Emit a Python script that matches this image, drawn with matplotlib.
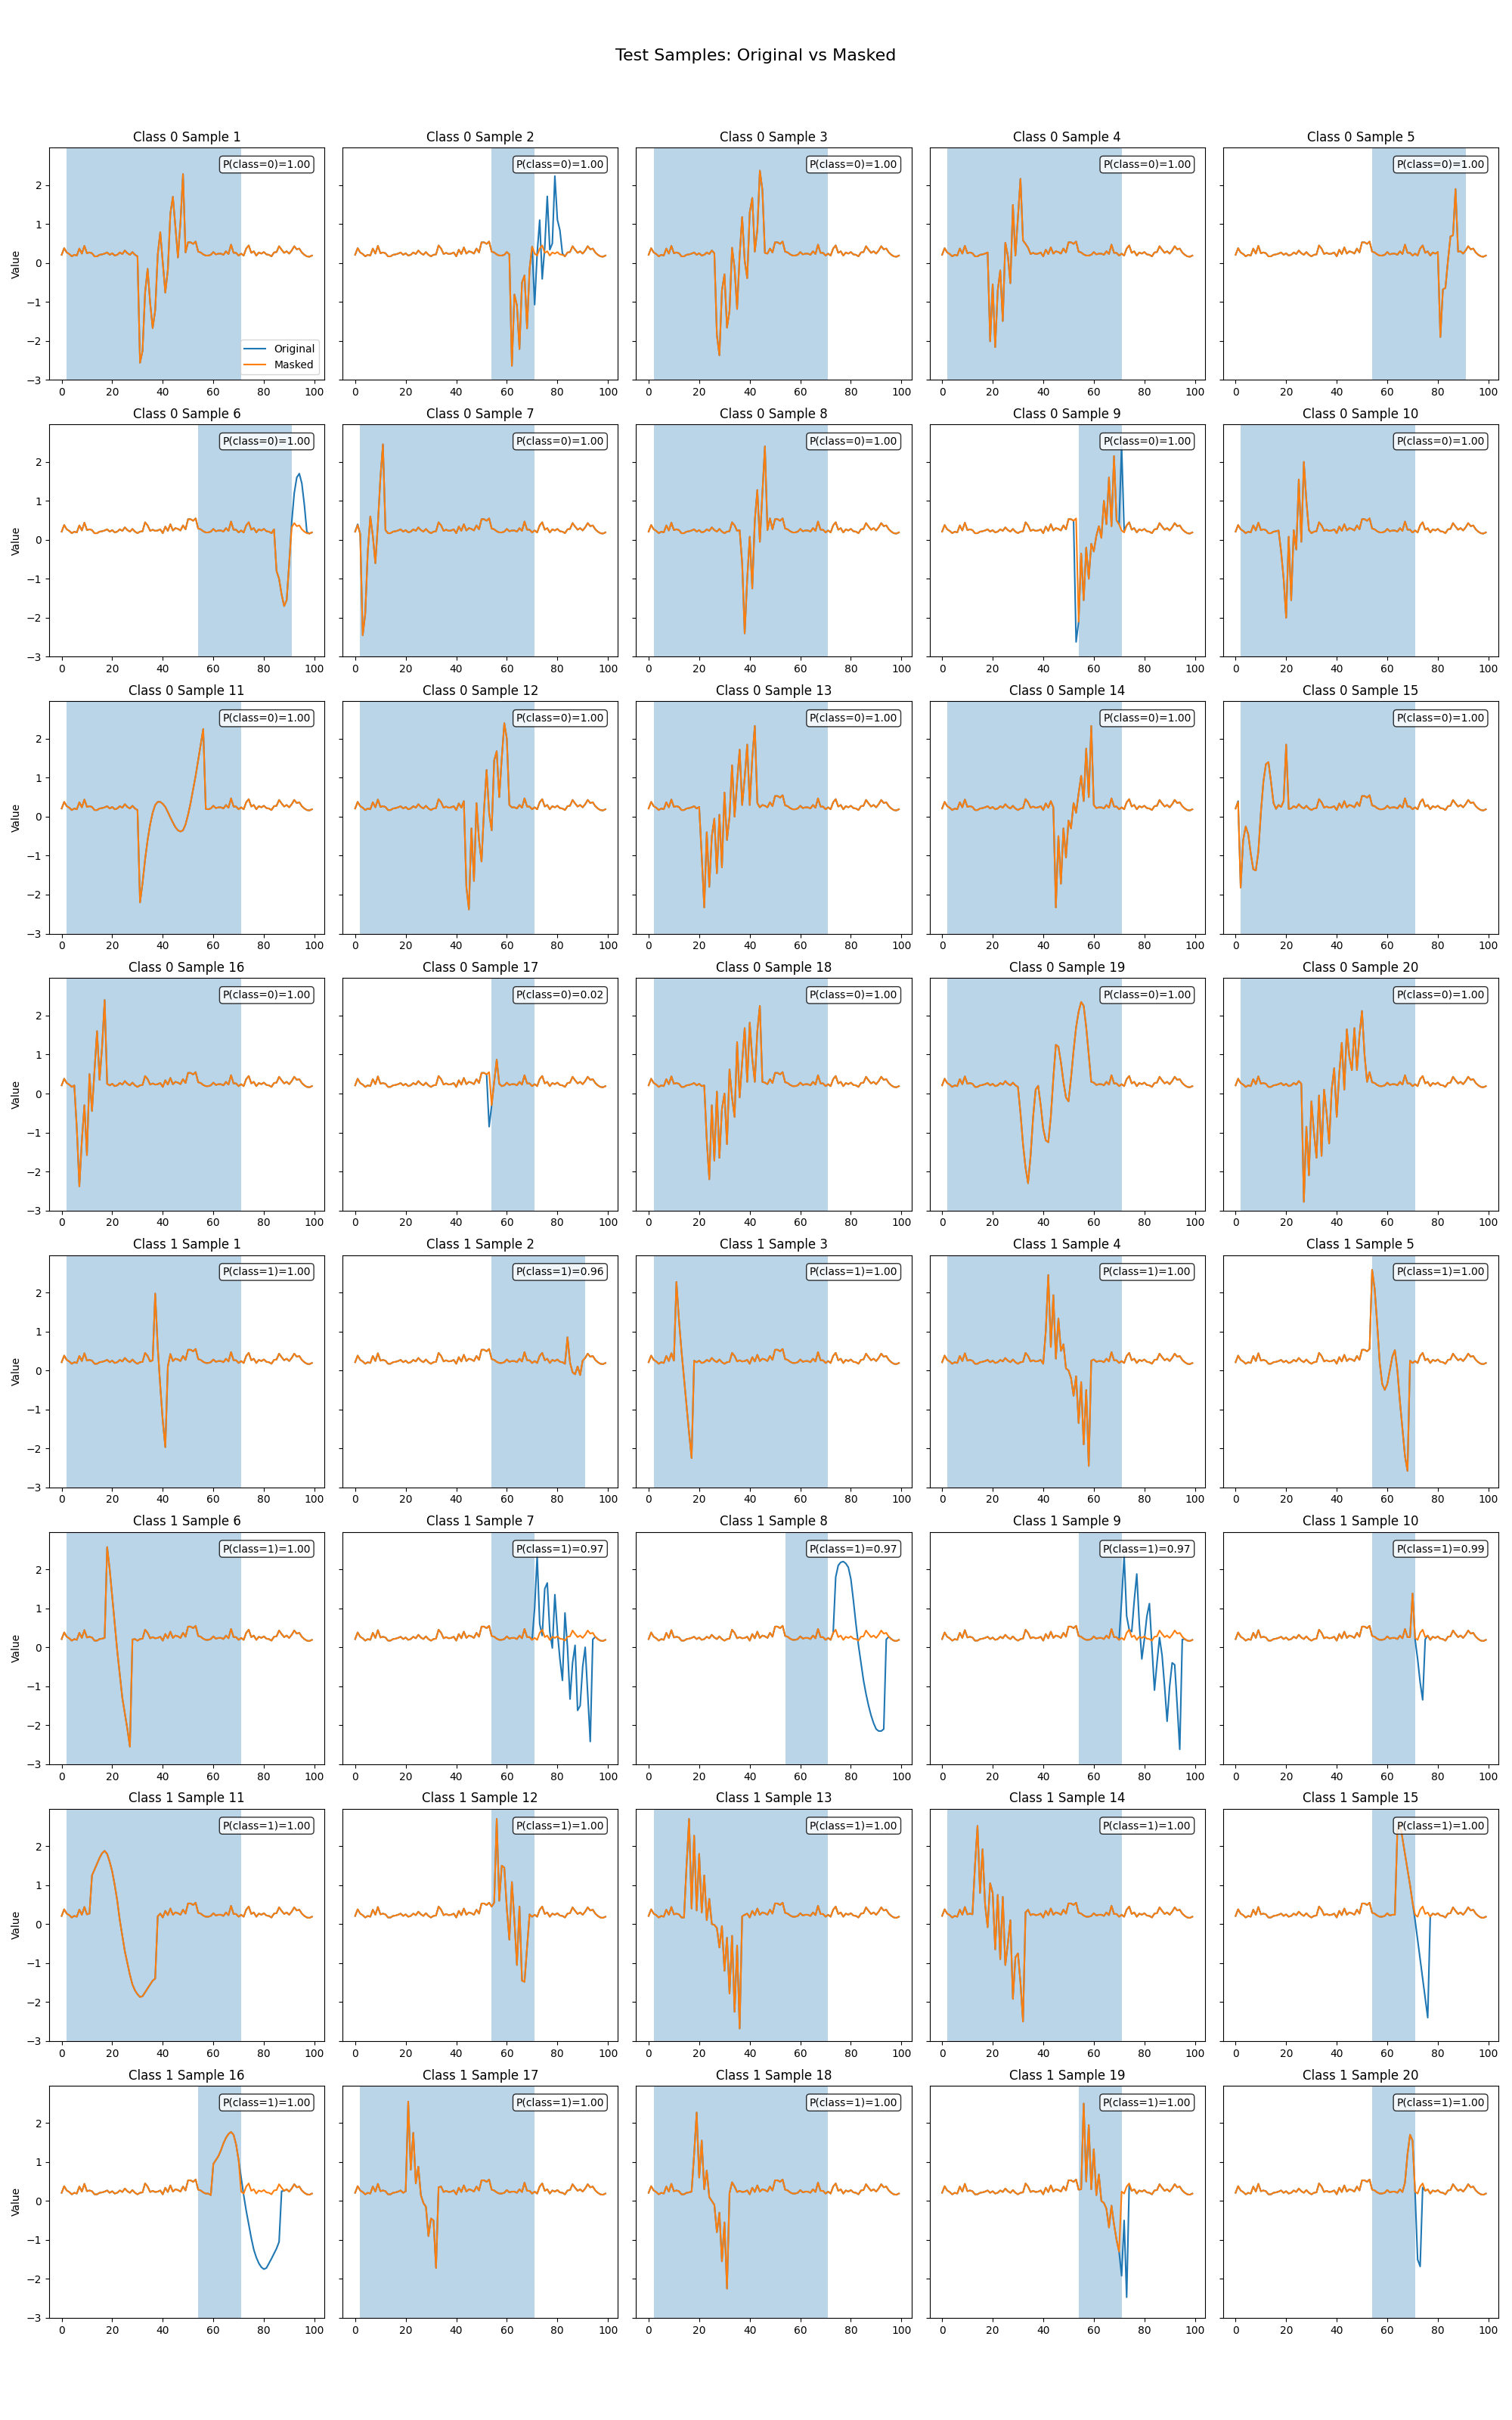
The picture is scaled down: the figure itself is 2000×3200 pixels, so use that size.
import matplotlib
matplotlib.use("Agg")
import matplotlib.pyplot as plt
import numpy as np

# shared background signal (index 0..99)
baseline = [
    0.21, 0.38, 0.27, 0.23, 0.17, 0.21, 0.19, 0.37, 0.24, 0.44,
    0.25, 0.27, 0.25, 0.17, 0.17, 0.21, 0.22, 0.24, 0.27, 0.21,
    0.25, 0.19, 0.21, 0.27, 0.23, 0.32, 0.25, 0.21, 0.28, 0.21,
    0.17, 0.21, 0.22, 0.45, 0.37, 0.23, 0.26, 0.23, 0.24, 0.27,
    0.17, 0.34, 0.23, 0.40, 0.24, 0.30, 0.28, 0.24, 0.37, 0.27,
    0.53, 0.53, 0.49, 0.55, 0.29, 0.27, 0.22, 0.19, 0.19, 0.21,
    0.28, 0.22, 0.24, 0.24, 0.21, 0.30, 0.23, 0.47, 0.26, 0.26,
    0.19, 0.24, 0.19, 0.37, 0.45, 0.26, 0.30, 0.19, 0.27, 0.24,
    0.28, 0.22, 0.21, 0.17, 0.27, 0.28, 0.43, 0.34, 0.26, 0.30,
    0.24, 0.32, 0.43, 0.35, 0.37, 0.27, 0.21, 0.17, 0.16, 0.19,
]

# class 0 samples 1-20 then class 1 samples 1-20
sample_class = [0] * 20 + [1] * 20
sample_num = list(range(1, 21)) * 2

probs = [1.00, 1.00, 1.00, 1.00, 1.00, 1.00, 1.00, 1.00, 1.00, 1.00,
         1.00, 1.00, 1.00, 1.00, 1.00, 1.00, 0.02, 1.00, 1.00, 1.00,
         1.00, 0.96, 1.00, 1.00, 1.00, 1.00, 0.97, 0.97, 0.97, 0.99,
         1.00, 1.00, 1.00, 1.00, 1.00, 1.00, 1.00, 1.00, 1.00, 1.00]

span_start = [2, 54, 2, 2, 54, 54, 2, 2, 54, 2,
              2, 2, 2, 2, 2, 2, 54, 2, 2, 2,
              2, 54, 2, 2, 54, 2, 54, 54, 54, 54,
              2, 54, 2, 2, 54, 54, 2, 2, 54, 54]
span_end = [71, 71, 71, 71, 91, 91, 71, 71, 71, 71,
            71, 71, 71, 71, 71, 71, 71, 71, 71, 71,
            71, 91, 71, 71, 71, 71, 71, 71, 71, 71,
            71, 71, 71, 71, 71, 71, 71, 71, 71, 71]

event_start = [31, 62, 27, 19, 81, 85, 1, 36, 53, 18,
               31, 43, 21, 45, 1, 6, 53, 23, 31, 27,
               37, 84, 11, 41, 54, 18, 71, 74, 71, 70,
               12, 54, 15, 13, 64, 59, 21, 18, 55, 68]

event_values = [
    # class 0
    [-2.56, -2.25, -0.76, -0.15, -1.02, -1.67, -1.22, 0.21, 0.79, 0.01, -0.76, -0.18, 1.27, 1.70, 0.92, 0.14, 1.05, 2.28, 0.27],
    [-2.64, -0.81, -1.09, -2.21, -0.50, -0.32, -1.68, -0.15, 0.42, -1.07, 0.25, 1.10, -0.41, 0.40, 1.71, 0.34, 0.50, 2.23, 1.11, 0.84, 0.24],
    [-1.85, -2.37, -0.71, -0.29, -1.66, -1.23, 0.39, -0.13, -1.18, 0.19, 1.18, 0.06, -0.39, 1.30, 1.67, 0.29, 0.84, 2.37, 1.88, 0.26],
    [-2.01, -0.55, -2.16, -0.71, -0.19, -1.49, 0.52, 0.19, -0.52, 1.49, 0.19, 1.17, 2.16, 0.58, 0.49, 0.39],
    [-1.90, -0.68, -0.64, 0.06, 0.68, 0.71, 1.90, 0.29],
    [-0.80, -1.00, -1.40, -1.70, -1.55, -0.60, 0.45, 1.20, 1.60, 1.70, 1.45, 0.90, 0.20],
    [0.40, 0.15, -2.45, -1.90, -0.30, 0.60, 0.10, -0.60, 0.40, 1.60, 2.45, 0.25],
    [0.25, -0.60, -2.40, -1.00, 0.08, -1.25, 0.50, 1.28, -0.05, 1.20, 2.40, 0.25, 0.55],
    [-2.62, -2.10, -0.35, -1.55, -0.20, -1.00, -0.10, -0.30, 0.10, 0.35, 0.05, 1.00, 0.40, 1.60, 0.35, 2.15, 0.50, 0.40, 2.40, 0.25],
    [-0.30, -1.00, -2.00, 0.08, -1.55, 0.25, -0.25, 1.55, -0.05, 2.00, 1.00, 0.25],
    [-2.20, -1.70, -1.10, -0.60, -0.20, 0.10, 0.30, 0.38, 0.38, 0.33, 0.25, 0.12, -0.02, -0.15, -0.27, -0.35, -0.38, -0.35, -0.20, 0.05, 0.35, 0.70, 1.05, 1.45, 1.85, 2.25, 0.20],
    [0.40, -1.80, -2.38, -0.30, -1.65, 0.35, -0.60, -1.15, 0.20, 1.20, 0.10, -0.35, 1.45, 1.68, 0.50, 1.50, 2.40, 2.00, 0.30],
    [-1.00, -2.33, -0.40, -1.80, -0.50, -0.05, -1.45, 0.05, -1.30, 0.62, -0.60, 0.00, 1.32, 0.00, 0.90, 1.72, 0.30, 1.00, 1.85, 0.30, 1.50, 2.33, 0.35],
    [-2.33, -0.50, -1.72, -0.30, -1.05, -0.10, -0.30, 0.35, 0.10, 0.60, 1.05, 0.40, 1.75, 0.50, 2.33, 0.30],
    [0.40, -1.82, -0.60, -0.25, -0.45, -0.95, -1.35, -1.38, -0.90, 0.10, 0.90, 1.35, 1.40, 0.90, 0.35, 0.20, 0.30, 0.25, 0.40, 1.85, 0.20],
    [-0.90, -2.38, -1.20, -0.30, -1.58, 0.50, -0.45, 0.60, 1.60, 0.35, 1.20, 2.40, 0.25],
    [-0.85, -0.30, 0.30, 0.87, 0.25],
    [-1.20, -2.20, -0.30, -1.72, 0.05, -1.65, -0.40, 0.00, -1.30, 0.62, -0.10, -0.60, 1.32, -0.10, 0.80, 1.68, 0.30, 1.82, 0.90, 0.30, 1.60, 2.25, 0.30],
    [-0.50, -1.30, -1.90, -2.30, -1.60, -0.60, 0.10, 0.20, -0.30, -0.90, -1.20, -1.25, -0.60, 0.40, 1.25, 1.20, 0.80, 0.30, -0.10, -0.20, 0.40, 1.10, 1.70, 2.10, 2.35, 2.25, 1.70, 1.00, 0.30],
    [-2.78, -0.85, -2.10, -0.20, -1.00, -1.65, -0.05, -1.60, 0.10, -0.50, -1.28, 0.10, 0.65, -0.60, 0.50, 1.30, 0.10, 1.65, 0.95, 0.60, 1.68, 0.60, 1.50, 2.12, 1.00, 0.30],
    # class 1
    [1.97, 0.60, -0.40, -1.30, -1.97, 0.10, 0.42],
    [0.85, 0.20, -0.05, -0.10, 0.10, -0.12, 0.25],
    [2.27, 1.30, 0.50, -0.20, -0.90, -1.60, -2.25, 0.25],
    [1.00, 2.45, 0.60, 1.93, 0.30, 1.33, 0.50, 0.67, 0.05, 0.00, -0.20, -0.65, -0.15, -1.35, -0.30, -1.90, -0.50, -2.45, 0.25],
    [2.58, 2.10, 1.20, 0.20, -0.35, -0.50, -0.35, 0.00, 0.35, 0.52, 0.00, -0.80, -1.50, -2.20, -2.58, 0.25],
    [2.57, 2.00, 1.30, 0.60, -0.10, -0.70, -1.30, -1.70, -2.10, -2.55, 0.20],
    [1.00, 2.35, 0.60, 0.30, 1.50, 1.65, 0.40, -0.02, 1.35, 0.40, -0.30, -0.85, 0.88, 0.00, -1.33, -0.40, 0.05, -1.62, -1.50, -0.50, 0.00, -1.20, -2.42, 0.20],
    [1.80, 2.10, 2.18, 2.20, 2.15, 2.05, 1.75, 1.20, 0.60, 0.05, -0.40, -0.85, -1.20, -1.50, -1.75, -1.95, -2.10, -2.15, -2.15, -2.10, 0.20],
    [1.20, 2.35, 0.80, 0.45, 0.40, 1.20, 1.88, 0.60, -0.30, 0.20, 0.80, 1.12, 0.00, -1.10, -0.40, 0.25, -0.20, -1.00, -1.90, -1.00, -0.40, -0.45, -1.50, -2.62, 0.20],
    [1.38, 0.20, -0.30, -0.90, -1.35, 0.20],
    [1.25, 1.40, 1.55, 1.70, 1.82, 1.88, 1.80, 1.60, 1.35, 1.00, 0.60, 0.10, -0.30, -0.70, -1.00, -1.30, -1.55, -1.70, -1.80, -1.87, -1.85, -1.75, -1.65, -1.55, -1.45, -1.40, 0.20],
    [0.45, 0.55, 2.70, 0.60, 1.50, 1.45, 0.40, -0.40, 1.08, 0.10, -1.05, 0.45, -1.45, -1.48, -0.60, 0.25],
    [1.50, 2.70, 0.40, 2.27, 0.35, 1.80, 0.30, 1.25, 0.10, 0.65, 0.00, -0.02, -0.10, -0.60, -0.05, -1.20, -0.35, -1.78, -0.30, -2.25, -0.55, -2.68, 0.20],
    [1.50, 2.52, 0.80, 1.92, 0.50, -0.08, 1.05, 0.80, -0.65, 0.75, -0.90, 0.70, -1.05, -0.50, 0.10, -1.92, -0.85, -0.75, -1.50, -2.50, 0.30],
    [2.40, 2.60, 2.20, 1.80, 1.40, 1.00, 0.55, 0.10, -0.40, -0.90, -1.40, -1.90, -2.40, 0.20],
    [0.15, 0.95, 1.05, 1.15, 1.30, 1.48, 1.62, 1.72, 1.77, 1.70, 1.45, 1.05, 0.60, 0.15, -0.25, -0.60, -0.95, -1.25, -1.45, -1.60, -1.70, -1.75, -1.72, -1.60, -1.48, -1.35, -1.22, -1.05, 0.25],
    [2.55, 0.80, 1.75, 0.45, 0.88, 0.15, -0.05, -0.15, -0.90, -0.45, -0.50, -1.72, 0.35],
    [1.20, 2.27, 0.60, 1.55, 0.30, 0.78, 0.10, 0.00, -0.10, -0.80, -0.30, -1.55, -0.55, -2.25, 0.20, 0.48],
    [0.30, 2.50, 0.50, 1.95, 0.30, 1.33, 0.15, 0.68, 0.00, -0.05, -0.20, -0.68, -0.12, -0.60, -1.00, -1.30, -1.92, -0.50, -2.47, 0.40],
    [1.20, 1.70, 1.55, 0.20, -1.50, -1.68, 0.35],
]

fig, axes = plt.subplots(8, 5, figsize=(20, 32), sharey=True)
fig.suptitle("Test Samples: Original vs Masked", fontsize=16)

t = np.arange(len(baseline))
for i, ax in enumerate(axes.flat):
    original = np.array(baseline, dtype=float)
    s = event_start[i]
    original[s:s + len(event_values[i])] = event_values[i]
    # masked: keep the explained window, background elsewhere
    masked = np.array(baseline, dtype=float)
    a, b = span_start[i], span_end[i]
    masked[a:b] = original[a:b]

    ax.axvspan(a, b, alpha=0.3)
    ax.plot(t, original, label="Original")
    ax.plot(t, masked, label="Masked")
    ax.set_title(f"Class {sample_class[i]} Sample {sample_num[i]}")
    ax.text(0.95, 0.95, f"P(class={sample_class[i]})={probs[i]:.2f}",
            transform=ax.transAxes, ha="right", va="top", fontsize=10,
            bbox=dict(boxstyle="round", facecolor="white", alpha=0.8))
    ax.set_ylim(-3.0, 2.96)
    if i % 5 == 0:
        ax.set_ylabel("Value")
    if i == 0:
        ax.legend(loc="lower right")

plt.subplots_adjust(left=0.0325, right=0.991, bottom=0.0422, top=0.939,
                    wspace=0.066, hspace=0.192)
plt.savefig("out.png", dpi=100)
